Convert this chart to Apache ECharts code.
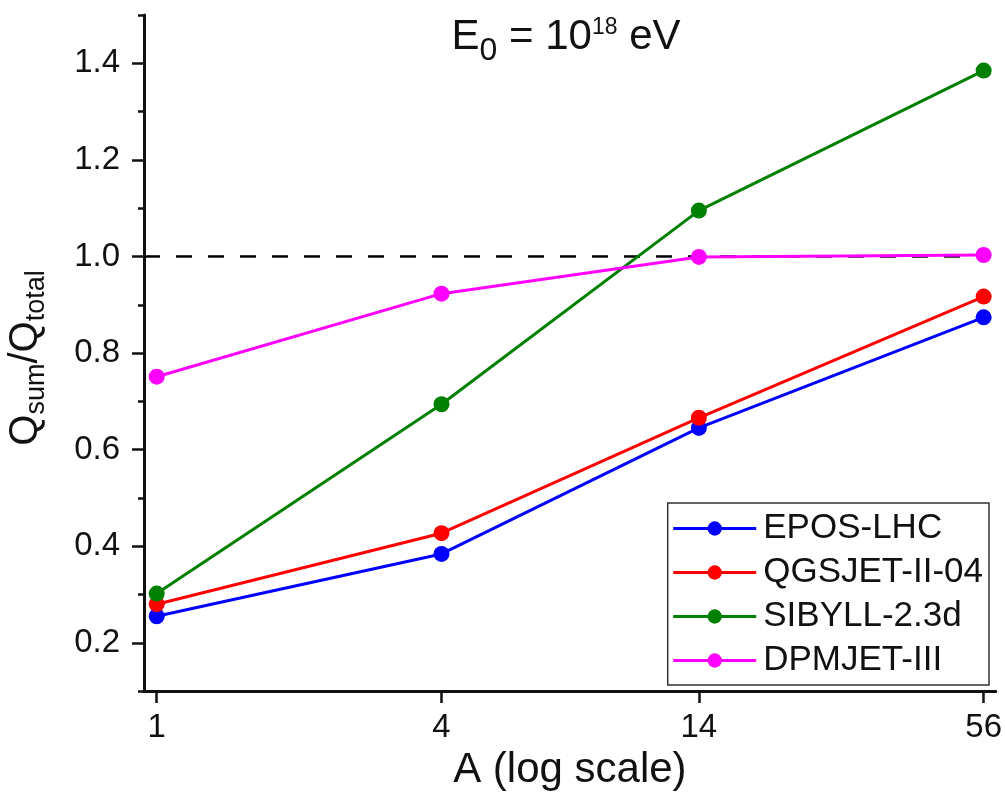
<!DOCTYPE html>
<html>
<head>
<meta charset="utf-8">
<script src="https://cdn.jsdelivr.net/npm/echarts@6/dist/echarts.min.js"></script>
<style>
  html, body { margin: 0; padding: 0; background: #fff; }
  #chart { width: 1005px; height: 796px; }
</style>
</head>
<body>
<div id="chart"></div>
<script>
// Mass number A of the primary (plotted on a log axis)
const massNumbers = [1, 4, 14, 56];

// Q_sum / Q_total for each hadronic interaction model
const eposLHC  = [0.255, 0.384, 0.645, 0.874];
const qgsjet   = [0.280, 0.427, 0.666, 0.917];
const sibyll   = [0.302, 0.694, 1.095, 1.385];
const dpmjet   = [0.751, 0.923, 0.999, 1.003];

const modelNames = ['EPOS-LHC', 'QGSJET-II-04', 'SIBYLL-2.3d', 'DPMJET-III'];
const modelColors = ['#0000ff', '#ff0000', '#008000', '#ff00ff'];

// Axis ticks
const xTicks = [1, 4, 14, 56];
const yMajorTicks = [0.2, 0.4, 0.6, 0.8, 1.0, 1.2, 1.4];
const yMinorTicks = [0.1, 0.3, 0.5, 0.7, 0.9, 1.1, 1.3, 1.5];

const X_MIN = 0.94, X_MAX = 59.4;
const Y_MIN = 0.1, Y_MAX = 1.5;
const REF_LEVEL = 1.0;

const FONT = "'Liberation Sans', Arial, Helvetica, sans-serif";
const INK = '#111';

const pairs = vals => massNumbers.map((a, i) => [a, vals[i]]);
const modelValues = [eposLHC, qgsjet, sibyll, dpmjet];

const chart = echarts.init(document.getElementById('chart'), null, { renderer: 'canvas' });

const modelSeries = modelValues.map((vals, i) => ({
  name: modelNames[i],
  type: 'line',
  data: pairs(vals),
  symbol: 'circle',
  symbolSize: 16,
  color: modelColors[i],
  lineStyle: { width: 3, color: modelColors[i] },
  itemStyle: { color: modelColors[i] },
  z: 3 + i,
  animation: false
}));

chart.setOption({
  animation: false,
  backgroundColor: '#fff',
  textStyle: { fontFamily: FONT, color: INK },
  grid: { left: 144, right: 8, top: 15, bottom: 94, containLabel: false },
  xAxis: {
    type: 'log',
    logBase: 10,
    min: X_MIN,
    max: X_MAX,
    name: 'A (log scale)',
    nameLocation: 'middle',
    nameGap: 44,
    nameTextStyle: { fontSize: 42, color: INK, fontFamily: FONT },
    axisLine: { show: true, onZero: false, lineStyle: { color: INK, width: 3 } },
    axisTick: { show: true, inside: false, length: 12, customValues: xTicks, lineStyle: { color: INK, width: 2.5 } },
    axisLabel: { customValues: xTicks, fontSize: 33, color: INK, fontFamily: FONT, margin: 20, formatter: v => String(Math.round(v)) },
    splitLine: { show: false },
    minorTick: { show: false }
  },
  yAxis: [
    {
      type: 'value',
      min: Y_MIN,
      max: Y_MAX,
      axisLine: { show: true, lineStyle: { color: INK, width: 3 } },
      axisTick: { show: true, inside: false, length: 12, customValues: yMajorTicks, lineStyle: { color: INK, width: 2.5 } },
      axisLabel: { customValues: yMajorTicks, fontSize: 33, color: INK, fontFamily: FONT, margin: 24, formatter: v => v.toFixed(1) },
      splitLine: { show: false }
    },
    {
      // short intermediate ticks
      type: 'value',
      min: Y_MIN,
      max: Y_MAX,
      position: 'left',
      axisLine: { show: false },
      axisTick: { show: true, inside: false, length: 6, customValues: yMinorTicks, lineStyle: { color: INK, width: 2.5 } },
      axisLabel: { show: false },
      splitLine: { show: false }
    }
  ],
  legend: {
    data: modelNames,
    orient: 'vertical',
    right: 16,
    top: 503,
    align: 'left',
    itemWidth: 83,
    itemHeight: 18,
    itemGap: 9,
    padding: [8, 6, 7, 4],
    backgroundColor: '#fff',
    borderColor: '#333',
    borderWidth: 1.5,
    borderRadius: 0,
    lineStyle: { width: 3 },
    textStyle: { fontSize: 35, color: INK, fontFamily: FONT, padding: [0, 0, 0, 2] }
  },
  graphic: [
    {
      type: 'text',
      x: 566,
      y: 16,
      z: 100,
      style: {
        text: '{m|E}{sub|0}{m| = 10}{sup|18}{m| eV}',
        align: 'center',
        verticalAlign: 'top',
        fill: INK,
        font: '42px ' + FONT,
        rich: {
          m:   { fontSize: 42, lineHeight: 42, verticalAlign: 'top', fontFamily: FONT, fill: INK },
          sub: { fontSize: 32, lineHeight: 51, verticalAlign: 'bottom', fontFamily: FONT, fill: INK },
          sup: { fontSize: 23, lineHeight: 23, verticalAlign: 'top', fontFamily: FONT, fill: INK }
        }
      }
    },
    {
      type: 'text',
      x: 28,
      y: 358,
      rotation: Math.PI / 2,
      z: 100,
      style: {
        text: '{m|Q}{sub|sum}{m|/Q}{sub|total}',
        align: 'center',
        verticalAlign: 'middle',
        fill: INK,
        font: '40px ' + FONT,
        rich: {
          m:   { fontSize: 40, lineHeight: 40, verticalAlign: 'top', fontFamily: FONT, fill: INK },
          sub: { fontSize: 27, lineHeight: 45, verticalAlign: 'bottom', fontFamily: FONT, fill: INK }
        }
      }
    }
  ],
  series: [
    {
      name: 'reference',
      type: 'line',
      data: [[X_MIN, REF_LEVEL], [massNumbers[massNumbers.length - 1], REF_LEVEL]],
      symbol: 'none',
      lineStyle: { color: '#000', width: 2.5, type: [16, 16] },
      silent: true,
      z: 2,
      animation: false
    }
  ].concat(modelSeries)
});
</script>
</body>
</html>
